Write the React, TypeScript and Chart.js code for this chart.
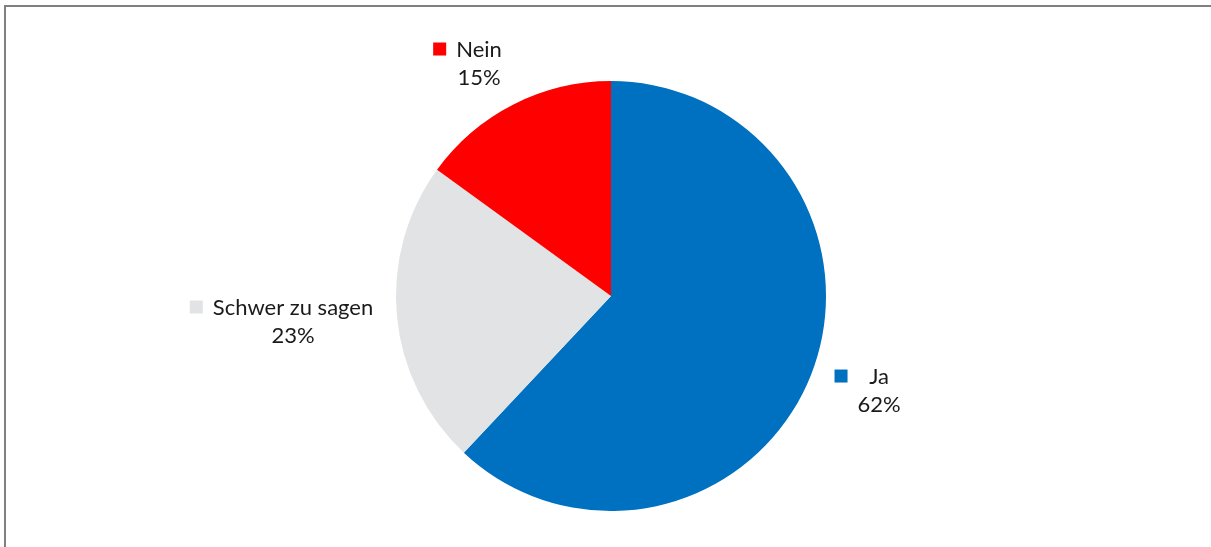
import React, { useEffect, useRef } from "react";
import { Chart, registerables } from "chart.js";

Chart.register(...registerables);

const categories = ["Ja", "Schwer zu sagen", "Nein"];
const values = [62, 23, 15];
const valueLabels = ["62%", "23%", "15%"];
const colors = ["#0070C0", "#E2E3E5", "#FF0000"];

// label text-column centre, relative to pie centre, in units of the outer radius
const labelAnchors = [
  [1.247, 0.442],
  [-1.479, 0.121],
  [-0.614, -1.079],
];

const FONT = "22px Lato";

const labelPlugin = {
  id: "outsideLabels",
  afterDraw(chart: any) {
    const ctx = chart.ctx;
    const meta = chart.getDatasetMeta(0);
    ctx.save();
    ctx.font = FONT;
    ctx.textAlign = "center";
    ctx.textBaseline = "middle";
    meta.data.forEach((arc: any, i: number) => {
      const R = arc.outerRadius;
      const cx = arc.x + labelAnchors[i][0] * R;
      const cy = arc.y + labelAnchors[i][1] * R;
      const lineGap = 28;
      const l1 = categories[i];
      const l2 = valueLabels[i];
      const w = Math.max(ctx.measureText(l1).width, ctx.measureText(l2).width);
      const y1 = cy - lineGap / 2;
      const y2 = cy + lineGap / 2;
      ctx.fillStyle = "#1a1a1a";
      ctx.fillText(l1, cx, y1);
      ctx.fillText(l2, cx, y2);
      const ks = 13;
      ctx.fillStyle = colors[i];
      ctx.fillRect(cx - w / 2 - 10 - ks, y1 - ks / 2 - 1, ks, ks);
    });
    ctx.restore();
  },
};

export default function App() {
  const ref = useRef<HTMLCanvasElement>(null);
  useEffect(() => {
    if (!ref.current) return;
    const chart = new Chart(ref.current, {
      type: "pie",
      data: {
        labels: categories,
        datasets: [
          {
            data: values,
            backgroundColor: colors,
            borderWidth: 0,
          },
        ],
      },
      options: {
        animation: false,
        responsive: false,
        maintainAspectRatio: false,
        layout: { padding: { top: 81, bottom: 36, left: 200, right: 189 } },
        plugins: {
          legend: { display: false },
          tooltip: { enabled: false },
        },
      },
      plugins: [labelPlugin],
    });
    return () => chart.destroy();
  }, []);
  return (
    <div
      style={{
        position: "fixed",
        left: 0,
        top: 0,
        width: 1211,
        height: 547,
        background: "#fff",
        overflow: "hidden",
      }}
    >
      <div
        style={{
          position: "absolute",
          left: 4,
          top: 5,
          width: 1300,
          height: 700,
          borderTop: "2px solid #808080",
          borderLeft: "2px solid #808080",
        }}
      />
      <canvas
        ref={ref}
        width={1211}
        height={547}
        style={{ position: "absolute", left: 0, top: 0, width: 1211, height: 547 }}
      />
    </div>
  );
}
